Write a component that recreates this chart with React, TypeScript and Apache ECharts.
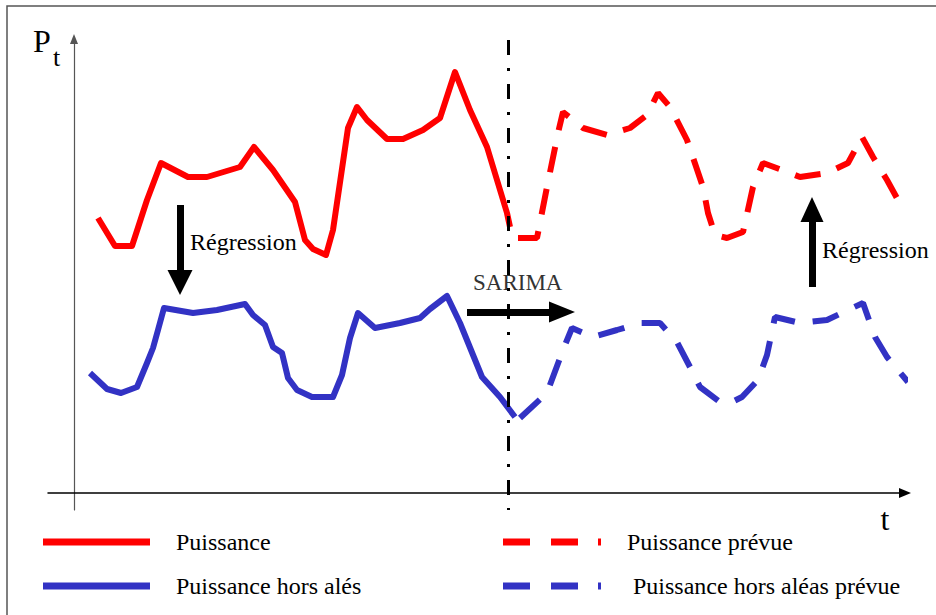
import React, { useEffect, useRef } from "react";
import * as echarts from "echarts";

const FONT = '"Liberation Serif", "Times New Roman", "DejaVu Serif", serif';
const RED = "#ff0000";
const BLUE = "#3232c4";

// Puissance (measured power)
const puissanceT = [2.4, 4.1, 5.8, 7.3, 8.7, 11.4, 13.3, 16.6, 18.0, 19.9, 22.1, 23.1, 23.9, 25.2, 25.9, 27.4, 28.3, 29.3, 31.3, 32.9, 34.9, 36.6, 38.1, 39.6, 41.3, 42.3, 43.3, 43.6];
const puissanceP = [27.5, 24.7, 24.7, 29.3, 33.0, 31.6, 31.6, 32.6, 34.6, 32.3, 29.1, 25.3, 24.4, 23.8, 26.3, 36.5, 38.6, 37.3, 35.4, 35.4, 36.3, 37.5, 42.1, 38.3, 34.6, 31.3, 28.0, 26.6];

// Puissance prévue (forecast power)
const prevueT = [44.4, 46.3, 47.3, 48.4, 48.9, 50.9, 53.3, 55.6, 57.3, 58.4, 59.6, 61.3, 62.9, 63.4, 64.1, 65.3, 66.9, 67.9, 68.9, 70.8, 72.6, 75.3, 77.4, 78.8, 79.9, 81.3, 82.4];
const prevueP = [25.5, 25.5, 30.6, 36.0, 38.1, 36.5, 35.8, 36.5, 37.8, 40.0, 38.6, 35.3, 30.6, 28.0, 25.8, 25.5, 26.1, 30.6, 33.0, 32.3, 31.6, 32.0, 33.0, 35.6, 33.6, 31.3, 29.3];

// Puissance hors aléas
const horsT = [1.6, 3.3, 4.7, 6.3, 7.3, 7.9, 8.4, 9.0, 11.9, 14.3, 17.1, 17.9, 19.1, 19.9, 20.8, 21.4, 22.3, 23.8, 25.9, 26.8, 27.6, 28.4, 30.1, 32.6, 34.6, 35.6, 37.3, 38.6, 40.8, 42.6, 44.1];
const horsP = [12.0, 10.4, 10.0, 10.6, 13.0, 14.5, 16.3, 18.5, 18.0, 18.3, 18.9, 17.8, 16.8, 14.6, 14.0, 11.5, 10.3, 9.6, 9.6, 11.8, 15.5, 18.0, 16.5, 17.0, 17.5, 18.4, 19.7, 17.0, 11.6, 9.6, 7.6];

// Puissance hors aléas prévue
const horsPrevueT = [44.6, 47.3, 48.9, 49.8, 51.9, 54.3, 56.6, 58.6, 60.3, 61.6, 62.6, 64.6, 65.6, 66.8, 68.4, 69.3, 70.1, 72.6, 75.3, 77.6, 78.9, 80.1, 81.3, 83.4];
const horsPrevueP = [7.5, 10.0, 14.3, 16.5, 15.6, 16.3, 17.0, 17.0, 15.1, 12.6, 10.6, 9.1, 9.0, 9.6, 11.3, 13.8, 17.6, 17.0, 17.3, 18.4, 19.0, 15.6, 13.6, 11.1];

const seriesNames = ["Puissance", "Puissance hors alés", "Puissance prévue", "Puissance hors aléas prévue"];

// axis ranges (t, P)
const tRange = [-2.6, 83.1];
const pRange = [-1.7, 45.4];

// annotations in data units
const splitT = 43.4;
const splitSpan = [45.3, -1.7];
const arrowDown = [[10.6, 28.8], [10.6, 21.05]];
const arrowRight = [[39.3, 18.1], [48.8, 18.1]];
const arrowUp = [[73.8, 20.6], [73.8, 28.35]];
const labelRegLeft = [11.6, 25.1];
const labelSarima = [39.9, 21.05];
const labelRegRight = [74.8, 24.3];

const zip = (t: number[], p: number[]) => t.map((v, i) => [v, p[i]]);

const SOLID_ICON = "path://M0,0H107V7H0Z";
const DASH_ICON = "path://M0,0H27V7H0Z M48,0H75V7H48Z M95,0H98V7H95Z";

function legendBox(name: string, left: number, top: number, icon: string, w: number, gap: number) {
  return {
    data: [name],
    left,
    top,
    padding: 0,
    icon,
    itemWidth: w,
    itemHeight: 7,
    selectedMode: false,
    itemStyle: { borderWidth: 0 },
    textStyle: { fontFamily: FONT, fontSize: 24, color: "#000", padding: [0, 0, 0, gap] },
  };
}

export default function App() {
  const ref = useRef<HTMLDivElement>(null);

  useEffect(() => {
    const chart = echarts.init(ref.current!, null, { renderer: "svg" });
    const base: any = {
      animation: false,
      backgroundColor: "#fff",
      grid: { left: 48, right: 31, top: 39, bottom: 105, containLabel: false },
      xAxis: {
        type: "value",
        min: tRange[0],
        max: tRange[1],
        axisLine: {
          onZero: true,
          lineStyle: { color: "#000", width: 1.5 },
          symbol: ["none", "triangle"],
          symbolSize: [10, 12],
        },
        axisTick: { show: false },
        axisLabel: { show: false },
        splitLine: { show: false },
      },
      yAxis: {
        type: "value",
        min: pRange[0],
        max: pRange[1],
        axisLine: {
          onZero: true,
          lineStyle: { color: "#555", width: 1.2 },
          symbol: ["none", "triangle"],
          symbolSize: [8, 10],
        },
        axisTick: { show: false },
        axisLabel: { show: false },
        splitLine: { show: false },
      },
      legend: [
        legendBox(seriesNames[0], 43, 530, SOLID_ICON, 107, 21),
        legendBox(seriesNames[1], 43, 574, SOLID_ICON, 107, 21),
        legendBox(seriesNames[2], 503, 530, DASH_ICON, 98, 21),
        legendBox(seriesNames[3], 503, 574, DASH_ICON, 98, 27),
      ],
      series: [
        {
          name: seriesNames[0],
          type: "line",
          data: zip(puissanceT, puissanceP),
          symbol: "none",
          clip: false,
          color: RED,
          lineStyle: { color: RED, width: 6, join: "round" },
          silent: true,
          markLine: {
            silent: true,
            symbol: ["none", "triangle"],
            label: { show: false },
            lineStyle: { color: "#000", width: 7, type: "solid" },
            data: [
              [
                { coord: arrowDown[0], symbol: "none" },
                { coord: arrowDown[1], symbol: "triangle", symbolSize: [25, 25] },
              ],
              [
                { coord: arrowRight[0], symbol: "none" },
                { coord: arrowRight[1], symbol: "triangle", symbolSize: [21, 26] },
              ],
              [
                { coord: arrowUp[0], symbol: "none" },
                { coord: arrowUp[1], symbol: "triangle", symbolSize: [23, 25] },
              ],
            ],
          },
        },
        {
          name: seriesNames[1],
          type: "line",
          data: zip(horsT, horsP),
          symbol: "none",
          clip: false,
          color: BLUE,
          lineStyle: { color: BLUE, width: 6, join: "round" },
          silent: true,
          markLine: {
            silent: true,
            symbol: ["none", "none"],
            label: { show: false },
            lineStyle: { color: "#000", width: 3, type: [15, 13, 3, 13] },
            data: [[{ coord: [splitT, splitSpan[0]] }, { coord: [splitT, splitSpan[1]] }]],
          },
        },
        {
          name: seriesNames[2],
          type: "line",
          data: zip(prevueT, prevueP),
          symbol: "none",
          clip: false,
          color: RED,
          lineStyle: { color: RED, width: 6, type: [26, 17] },
          silent: true,
        },
        {
          name: seriesNames[3],
          type: "line",
          data: zip(horsPrevueT, horsPrevueP),
          symbol: "none",
          clip: false,
          color: BLUE,
          lineStyle: { color: BLUE, width: 6, type: [27, 18] },
          silent: true,
        },
      ],
    };
    chart.setOption(base);

    const px = (p: number[]) => chart.convertToPixel({ gridIndex: 0 }, p) as number[];
    const a = px(labelRegLeft);
    const b = px(labelSarima);
    const c = px(labelRegRight);
    const txt = (x: number, y: number, text: string, size: number, color = "#000", align = "left") => ({
      type: "text",
      x,
      y,
      silent: true,
      style: { text, fill: color, font: `${size}px ${FONT}`, align, verticalAlign: "middle" },
    });

    chart.setOption({
      graphic: [
        {
          type: "polyline",
          silent: true,
          shape: { points: [[7, 615], [7, 6], [936, 6]] },
          style: { stroke: "#555", lineWidth: 1.5, fill: "none" },
        },
        txt(a[0], a[1], "Régression", 24),
        txt(b[0], b[1], "SARIMA", 23, "#333"),
        txt(c[0], c[1], "Régression", 24),
        txt(33, 41, "P", 32),
        txt(53, 57, "t", 26),
        txt(885, 519, "t", 32, "#000", "center"),
      ],
    });

    return () => chart.dispose();
  }, []);

  return (
    <div
      ref={ref}
      style={{ position: "fixed", left: 0, top: 0, width: 936, height: 615, background: "#fff" }}
    />
  );
}
